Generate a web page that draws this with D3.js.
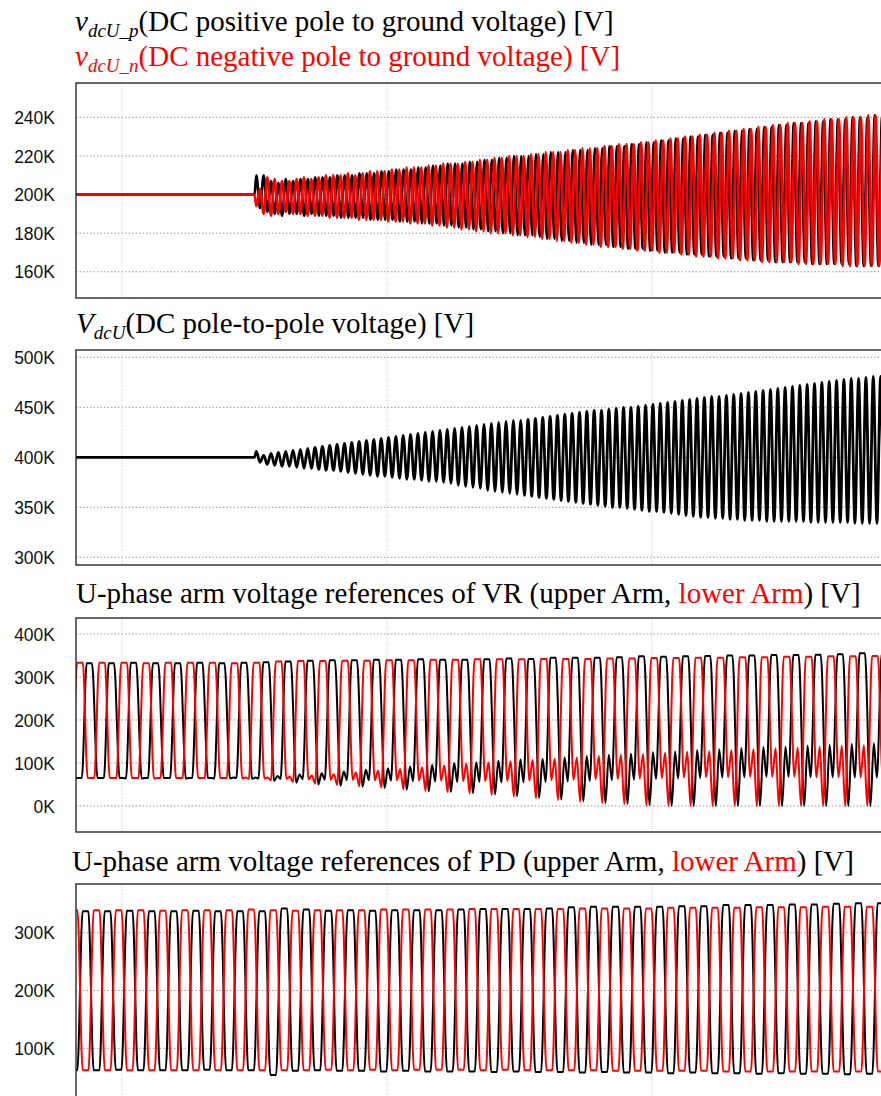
<!DOCTYPE html>
<html>
<head>
<meta charset="utf-8">
<script src="https://cdn.jsdelivr.net/npm/d3@7"></script>
<style>
  html, body { margin: 0; padding: 0; background: #fff; }
  svg { display: block; }
</style>
</head>
<body>
<svg id="chart" width="881" height="1096"></svg>
<script>
// ---------------------------------------------------------------------------
// Time base (ms) and waveform timing
// ---------------------------------------------------------------------------
const timeDomain = [165.3, 776];        // visible time window, ms
const timeGrid = [200, 400, 600];       // vertical grid instants, ms
const onsetTime = 300;                  // DC-side oscillation starts here, ms
const dcPeriodPos = 5.556;              // oscillation period, positive pole, ms
const dcPeriodNeg = 5.531;              // oscillation period, negative pole, ms
const dcPeriodPole = 5.543;             // oscillation period, pole-to-pole, ms
const acPeriod = 16.667;                // arm-voltage fundamental period, ms
const vrUpperFirstPeak = 158.7;         // first upper-arm crest (VR), ms
const vrLowerFirstPeak = 151.6;         // first lower-arm crest (VR), ms
const pdUpperFirstPeak = 155.8;         // first upper-arm crest (PD), ms
const pdLowerFirstPeak = 164.2;         // first lower-arm crest (PD), ms

// ---------------------------------------------------------------------------
// Tick labels (kV)
// ---------------------------------------------------------------------------
const ticksPoleGround = [160, 180, 200, 220, 240];
const ticksPoleToPole = [300, 350, 400, 450, 500];
const ticksArmVR = [0, 100, 200, 300, 400];
const ticksArmPD = [100, 200, 300];

// ---------------------------------------------------------------------------
// Pole-to-ground voltages (kV): steady value, then crest / trough per cycle
// ---------------------------------------------------------------------------
const poleLevel = 200;
const posPoleCrest = [210,210,207,206,208,207,208,208,209,209, 209,210,210,210,211,211,211,212,212,213,
  213,213,214,214,215,215,216,216,216,217, 217,218,218,219,219,220,220,220,221,221,
  222,222,222,223,223,223,224,224,225,225, 225,226,226,227,227,228,228,229,229,230,
  230,231,231,232,232,233,233,234,234,235, 235,236,236,237,237,237,238,238,239,239,
  239,240,240,240,241,241,241];
const posPoleTrough = [193,191,190,189,190,190,189,190,189,189, 189,188,188,188,188,187,187,187,187,186,
  186,186,185,185,185,184,184,183,183,182, 182,181,181,180,180,179,179,179,178,177,
  177,176,176,175,175,174,174,174,173,173, 172,172,172,171,171,170,170,170,169,169,
  169,168,168,168,167,167,167,166,166,166, 165,165,165,165,165,164,164,164,164,164,
  164,163,163,163,163,163,163];
const negPoleTrough = [194,190,189,190,191,190,190,189,189,189, 188,188,188,188,187,187,187,187,186,186,
  186,185,185,185,184,184,183,183,182,182, 181,181,180,180,180,179,179,178,178,177,
  177,176,176,175,175,174,174,173,173,173, 172,172,171,171,171,170,170,170,169,169,
  168,168,168,167,167,167,166,166,166,165, 165,165,165,165,164,164,164,164,164,164,
  163,163,163,163,163,163,163];
const negPoleCrest = [203,209,208,207,207,208,209,208,209,210, 210,210,211,210,211,212,212,212,213,213,
  214,214,214,215,215,216,216,216,217,217, 218,218,219,219,220,220,220,221,221,222,
  222,222,223,223,224,224,224,225,225,226, 226,226,227,227,228,228,229,229,230,230,
  231,231,232,232,233,233,234,234,235,235, 236,236,237,237,237,238,238,239,239,239,
  240,240,240,241,241,241,241];

// ---------------------------------------------------------------------------
// Pole-to-pole voltage (kV)
// ---------------------------------------------------------------------------
const poleToPoleLevel = 400;
const poleToPoleCrest = [406,402,404,405,406,407,408,409,410,411, 412,413,414,415,416,417,418,419,420,421,
  422,423,424,425,426,427,428,429,430,431, 432,433,434,435,436,437,437,438,439,440,
  441,442,443,444,445,446,447,447,448,449, 450,450,451,452,453,454,455,456,457,458,
  459,460,461,461,462,463,464,465,466,467, 468,469,470,471,472,473,474,475,476,477,
  478,479,479,480,481,481,482];
const poleToPoleTrough = [395,393,392,391,391,390,389,389,388,387, 387,386,385,384,383,382,381,381,380,379,
  378,378,377,376,376,375,374,372,371,370, 369,367,366,365,364,363,362,361,360,359,
  358,357,356,355,354,353,352,351,350,350, 349,348,347,346,346,345,344,343,342,341,
  340,340,339,339,338,338,337,337,337,336, 336,336,336,336,336,335,335,335,335,335,
  335,334,334,334,334,334,334];

// ---------------------------------------------------------------------------
// VR arm voltage references (kV), per cycle: crest, first dip, bump, second dip
// ---------------------------------------------------------------------------
const vrUpperCrest = [332,332,332,333,332,332,333,332,333,334, 336,338,339,339,340,340,341,340,340,341,
  343,342,345,345,345,346,348,347,348,349, 350,350,351,351,352,353,355,355];
const vrUpperDip1 = [65,65,65,64,65,64,65,64,63,58, 54,50,47,45,42,38,34,33,30,27,
  23,19,15,11,7,5,2,0,0,0, 0,0,0,0,0,0,0,0];
const vrUpperBump = [65,65,65,65,65,65,65,66,66,70, 73,76,80,84,88,92,96,100,102,105,
  108,110,113,116,119,122,125,127,130,132, 135,137,138,140,142,144,146,147];
const vrUpperDip2 = [65,65,64,65,65,65,64,65,64,63, 62,61,60,60,59,58,57,56,56,55,
  55,56,57,58,60,61,63,64,65,66, 67,68,68,67,67,66,66,66];

const vrLowerCrest = [333,333,333,333,332,333,333,333,332,333, 336,337,337,338,338,339,339,340,340,341,
  341,341,342,342,342,343,343,344,344,345, 345,346,346,347,347,348,348,349,349];
const vrLowerDip1 = [65,65,65,65,64,65,65,65,64,64, 63,62,61,61,60,60,59,59,58,58,
  58,59,60,61,62,63,64,65,66,67, 67,68,68,68,67,67,67,66,66];
const vrLowerBump = [65,65,65,65,65,65,65,65,66,66, 68,71,74,78,82,86,90,94,98,101,
  104,107,110,113,116,119,121,124,126,128, 130,132,134,136,138,140,141,143,144];
const vrLowerDip2 = [65,65,65,65,65,65,65,65,63,60, 56,52,49,46,43,39,35,32,29,26,
  22,18,14,10,7,4,1,0,0,0, 0,0,0,0,0,0,0,0,0];

// ---------------------------------------------------------------------------
// PD arm voltage references (kV), per cycle: crest, trough
// ---------------------------------------------------------------------------
const pdUpperCrest = [337,337,337,338,337,337,338,337,337,337, 342,340,338,339,338,339,339,339,340,341,
  341,341,342,344,345,345,345,345,346,346, 348,348,348,349,349,350,351,351,351];
const pdUpperTrough = [62,62,63,62,62,62,63,62,62,54, 61,62,61,61,60,61,60,60,60,59,
  60,59,59,58,59,58,58,57,58,57, 57,56,57,56,56,55,56,55,55];
const pdLowerCrest = [339,339,339,339,338,339,339,339,340,339, 338,339,339,339,340,340,340,340,341,341,
  341,341,341,342,342,342,342,343,343,343, 343,344,344,344,345,345,345,345];
const pdLowerTrough = [62,62,62,62,62,62,62,62,62,62, 62,63,62,63,62,63,63,63,62,63,
  62,62,62,62,61,61,61,61,61,60, 60,60,60,60,60,60,60,60];

// ---------------------------------------------------------------------------
// Drawing
// ---------------------------------------------------------------------------
const RED = "#ff0000";
const BLACK = "#000000";
const SERIF = "'Liberation Serif', 'Times New Roman', Times, serif";
const SANS = "'Liberation Sans', Arial, Helvetica, sans-serif";

const svg = d3.select("#chart");
const plotLeft = 76, plotRight = 885.2;
const x = d3.scaleLinear().domain(timeDomain).range([plotLeft, plotRight]);

// a steady level followed by alternating extremes, a quarter and three quarters into each cycle
function oscillation(level, period, firstVals, secondVals) {
  const pts = [[timeDomain[0], level], [onsetTime, level]];
  firstVals.forEach((v, i) => {
    pts.push([onsetTime + (i + 0.25) * period, v]);
    pts.push([onsetTime + (i + 0.75) * period, secondVals[i]]);
  });
  return pts;
}

// per-cycle breakpoints placed at fixed fractions of the period around each crest
function armWave(firstPeak, fractions, columns) {
  const pts = [];
  columns[0].forEach((_, i) => {
    const tp = firstPeak + i * acPeriod;
    fractions.forEach((f, j) => pts.push([tp + f * acPeriod, columns[j][i]]));
  });
  return pts;
}

function panel(cfg) {
  const y = d3.scaleLinear().domain(cfg.domain).range([cfg.bottom, cfg.top]);
  const g = svg.append("g");
  const clipId = "clip-" + cfg.id;
  svg.append("clipPath").attr("id", clipId)
    .append("rect").attr("x", plotLeft).attr("y", cfg.top)
    .attr("width", plotRight - plotLeft).attr("height", cfg.bottom - cfg.top);

  // horizontal grid
  g.selectAll("line.hg").data(cfg.ticks).join("line")
    .attr("x1", plotLeft).attr("x2", plotRight)
    .attr("y1", d => y(d)).attr("y2", d => y(d))
    .attr("stroke", "#9a9a9a").attr("stroke-width", 1)
    .attr("stroke-dasharray", "1.5,2");
  // vertical grid
  g.selectAll("line.vg").data(timeGrid).join("line")
    .attr("x1", d => x(d)).attr("x2", d => x(d))
    .attr("y1", cfg.top).attr("y2", cfg.bottom)
    .attr("stroke", "#c4c4c4").attr("stroke-width", 1)
    .attr("stroke-dasharray", "1,1.5");

  // y axis labels
  const axis = d3.axisLeft(y).tickValues(cfg.ticks).tickSize(0).tickPadding(0)
    .tickFormat(d => d + "K");
  const ax = g.append("g").attr("transform", "translate(55,0)").call(axis);
  ax.select(".domain").remove();
  ax.selectAll("text")
    .attr("font-family", SANS).attr("font-size", "17.5px")
    .attr("fill", "#111").attr("x", 0).attr("dy", "0.35em");

  const line = d3.line().x(d => x(d[0])).y(d => y(d[1])).curve(d3.curveMonotoneX);
  const traces = g.append("g").attr("clip-path", `url(#${clipId})`);
  cfg.series.forEach(s => {
    traces.append("path").datum(s.points)
      .attr("d", line).attr("fill", "none")
      .attr("stroke", s.color).attr("stroke-width", s.width)
      .attr("stroke-linejoin", "round");
  });

  // frame
  g.append("rect").attr("x", plotLeft).attr("y", cfg.top)
    .attr("width", plotRight - plotLeft).attr("height", cfg.bottom - cfg.top)
    .attr("fill", "none").attr("stroke", "#2a2a2a").attr("stroke-width", 1.4);
}

// titles
function title(xPos, yPos, parts, color) {
  const t = svg.append("text").attr("x", xPos).attr("y", yPos)
    .attr("font-family", SERIF).attr("font-size", "29px").attr("fill", color || BLACK);
  parts.forEach(p => {
    const s = t.append("tspan").text(p.text);
    if (p.italic) s.attr("font-style", "italic");
    if (p.sub) s.attr("font-size", "19px").attr("dy", p.dy);
    if (p.dy && !p.sub) s.attr("dy", p.dy);
    if (p.color) s.attr("fill", p.color);
  });
}

title(75, 31, [
  { text: "v", italic: true },
  { text: "dcU_p", italic: true, sub: true, dy: 6 },
  { text: "(DC positive pole to ground voltage) [V]", dy: -6 }
]);
title(75, 66, [
  { text: "v", italic: true },
  { text: "dcU_n", italic: true, sub: true, dy: 6 },
  { text: "(DC negative pole to ground voltage) [V]", dy: -6 }
], RED);
title(76, 333, [
  { text: "V", italic: true },
  { text: "dcU", italic: true, sub: true, dy: 6 },
  { text: "(DC pole-to-pole voltage) [V]", dy: -6 }
]);
title(76, 603, [
  { text: "U-phase arm voltage references of VR (upper Arm, " },
  { text: "lower Arm", color: RED },
  { text: ") [V]" }
]);
title(72, 871, [
  { text: "U-phase arm voltage references of PD (upper Arm, " },
  { text: "lower Arm", color: RED },
  { text: ") [V]" }
]);

const vrFractionsUpper = [-0.12, 0.12, 0.37, 0.52, 0.66];
const vrFractionsLower = [-0.13, 0.13, 0.35, 0.50, 0.65];
const pdFractions = [-0.13, 0.13, 0.37, 0.63];

panel({
  id: "pg", top: 83, bottom: 298, domain: [146.4, 257.8], ticks: ticksPoleGround,
  series: [
    { color: BLACK, width: 2.6, points: oscillation(poleLevel, dcPeriodPos, posPoleCrest, posPoleTrough) },
    { color: RED, width: 2.6, points: oscillation(poleLevel, dcPeriodNeg, negPoleTrough, negPoleCrest) }
  ]
});
panel({
  id: "pp", top: 350, bottom: 565, domain: [292.3, 507.3], ticks: ticksPoleToPole,
  series: [
    { color: BLACK, width: 2.8, points: oscillation(poleToPoleLevel, dcPeriodPole, poleToPoleCrest, poleToPoleTrough) }
  ]
});
panel({
  id: "vr", top: 618, bottom: 832, domain: [-60.5, 437.2], ticks: ticksArmVR,
  series: [
    { color: BLACK, width: 2, points: armWave(vrUpperFirstPeak, vrFractionsUpper,
        [vrUpperCrest, vrUpperCrest, vrUpperDip1, vrUpperBump, vrUpperDip2]) },
    { color: RED, width: 2, points: armWave(vrLowerFirstPeak, vrFractionsLower,
        [vrLowerCrest, vrLowerCrest, vrLowerDip1, vrLowerBump, vrLowerDip2]) }
  ]
});
panel({
  id: "pd", top: 884, bottom: 1102, domain: [7.1, 384.3], ticks: ticksArmPD,
  series: [
    { color: BLACK, width: 2, points: armWave(pdUpperFirstPeak, pdFractions,
        [pdUpperCrest, pdUpperCrest, pdUpperTrough, pdUpperTrough]) },
    { color: RED, width: 2, points: armWave(pdLowerFirstPeak, pdFractions,
        [pdLowerCrest, pdLowerCrest, pdLowerTrough, pdLowerTrough]) }
  ]
});
</script>
</body>
</html>
